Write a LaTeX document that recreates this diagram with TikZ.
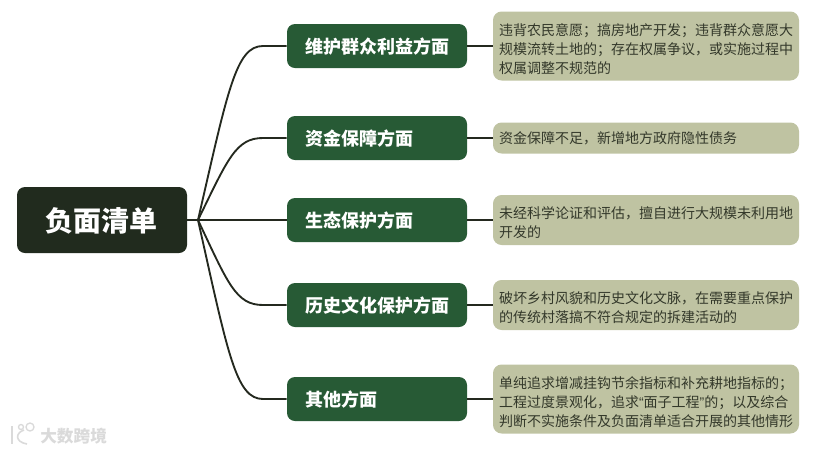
\documentclass[tikz,border=0pt]{standalone}
\usepackage{fontspec}
\setmainfont{Noto Sans CJK SC}
\newfontfamily\quotefont{Liberation Sans}
\definecolor{rootgreen}{HTML}{212B1E}
\definecolor{branchgreen}{HTML}{275A35}
\definecolor{leafolive}{HTML}{BFC3A2}
\definecolor{linedark}{HTML}{24291F}
\definecolor{leafink}{HTML}{33382A}
\definecolor{markgray}{HTML}{DADADA}
\begin{document}
\begin{tikzpicture}[x=0.75pt, y=-0.75pt,
    rootbox/.style={fill=rootgreen, text=white, rounded corners=6pt, minimum width=127.5pt, minimum height=49.5pt, text width=100pt, align=center, execute at end node={\vspace{-6.5pt}}, font=\fontsize{21}{24}\selectfont\bfseries},
    branchbox/.style={fill=branchgreen, text=white, rounded corners=6pt, minimum width=135pt, minimum height=33pt, text width=108pt, inner xsep=13.5pt, align=left, execute at end node={\vspace{-7pt}}, font=\fontsize{13.5}{16}\selectfont\bfseries},
    leafbox/.style={fill=leafolive, text=leafink, rounded corners=6.5pt, inner xsep=4.5pt, inner ysep=0pt, text width=220.5pt, align=left, execute at end node={\vspace{-4.5pt}}, font=\fontsize{10.5}{14.4}\selectfont},
    conn/.style={draw=linedark, line width=1.4pt}]
  \useasboundingbox (0, 0) rectangle (817, 451);
  \node[rootbox] (root) at (102, 220) {负面清单};
  \coordinate (hub) at (198, 220);
  \draw[conn] (root) -- (hub);
  \foreach \i/\ypos/\brtxt/\lfh/\lftxt in {
      1/46/维护群众利益方面/51.75pt/{违背农民意愿；搞房地产开发；违背群众意愿大\\规模流转土地的；存在权属争议，或实施过程中\\权属调整不规范的},
      2/138/资金保障方面/23.25pt/{资金保障不足，新增地方政府隐性债务},
      3/220/生态保护方面/37.5pt/{未经科学论证和评估，擅自进行大规模未利用地\\开发的},
      4/305/历史文化保护方面/37.5pt/{破坏乡村风貌和历史文化文脉，在需要重点保护\\的传统村落搞不符合规定的拆建活动的},
      5/399/其他方面/51.75pt/{单纯追求增减挂钩节余指标和补充耕地指标的；\\工程过度景观化，追求{\quotefont “}面子工程{\quotefont ”}的；以及综合\\判断不实施条件及负面清单适合开展的其他情形}} {
    \node[branchbox] (br\i) at (377, \ypos) {\brtxt};
    \node[leafbox, minimum height=\lfh] (lf\i) at (646, \ypos) {\lftxt};
    \draw[conn] (hub) .. controls (228, {220+(\ypos-220)*0.75}) and (236, \ypos) .. (263, \ypos) -- (br\i.west);
    \draw[conn] (br\i.east) -- (lf\i.west);
  }
  \node[text=markgray, inner sep=0pt, anchor=west, font=\fontsize{12.5}{14}\selectfont\bfseries] (mark) at (40, 436) {大数跨境};
  \draw[markgray, line width=1.2pt] (12, 426) -- (12, 444);
  \draw[markgray, line width=1.2pt] (24, 430) .. controls (15, 433) and (15, 442) .. (27, 444);
  \draw[markgray, line width=1pt] (21, 427) circle (2.5);
  \draw[markgray, line width=1pt] (30, 427) circle (4);
\end{tikzpicture}
\end{document}
